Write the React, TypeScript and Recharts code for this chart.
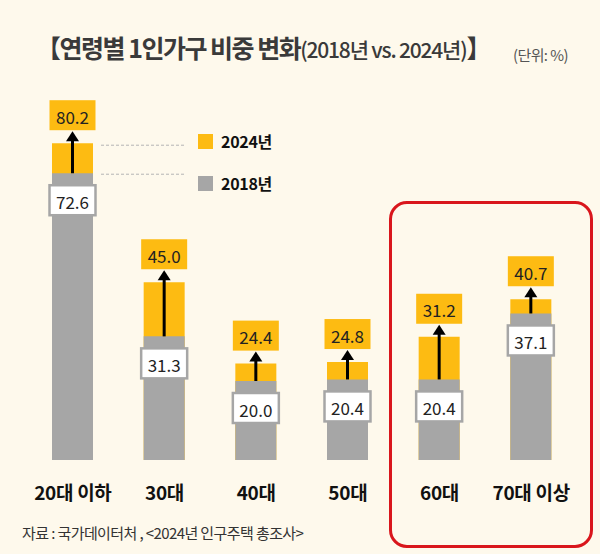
import { Bar, BarChart, LabelList, Legend, XAxis, YAxis } from "recharts";

const ageGroups = ["20대 이하", "30대", "40대", "50대", "60대", "70대 이상"];
const share2018 = [72.6, 31.3, 20.0, 20.4, 20.4, 37.1];
const share2024 = [80.2, 45.0, 24.4, 24.8, 31.2, 40.7];
const seriesNames = ["2024년", "2018년"];

const data = ageGroups.map((age, i) => ({
  age,
  y2018: share2018[i],
  y2024: share2024[i],
}));

const YELLOW = "#fdbb12";
const GRAY = "#a6a6a6";
const BG = "#fef9ec";
const FONT = "'Noto Sans CJK KR', 'Noto Sans', sans-serif";

// yellow value box + arrow from the 2018 top up to it
const NewValueLabel = (props: any) => {
  const { x, y, width, height, value, index } = props;
  const cx = x + width / 2;
  const base = y + height;
  const oldTop = base - (height * share2018[index]) / share2024[index];
  const boxW = 46;
  const boxH = 30;
  const boxBottom = y - 13;
  return (
    <g>
      <line x1={cx} y1={oldTop} x2={cx} y2={boxBottom + 9} stroke="#000" strokeWidth={3} />
      <polygon
        points={`${cx - 6.5},${boxBottom + 11} ${cx + 6.5},${boxBottom + 11} ${cx},${boxBottom + 1}`}
        fill="#000"
      />
      <rect x={cx - boxW / 2} y={boxBottom - boxH} width={boxW} height={boxH} fill={YELLOW} />
      <text
        x={cx}
        y={boxBottom - boxH / 2 + 1}
        textAnchor="middle"
        dominantBaseline="central"
        fontSize={17}
        fill="#222"
        fontFamily={FONT}
      >
        {Number(value).toFixed(1)}
      </text>
      {index === 0 && (
        <g stroke="#b5b5b5" strokeWidth={1} strokeDasharray="3 2">
          <line x1={x + width + 8} y1={y + 2} x2={x + width + 92} y2={y + 2} />
          <line x1={x + width + 8} y1={oldTop + 1} x2={x + width + 92} y2={oldTop + 1} />
        </g>
      )}
    </g>
  );
};

// white value box sitting just inside the top of the gray bar
const OldValueLabel = (props: any) => {
  const { x, y, width, value } = props;
  const cx = x + width / 2;
  const boxW = 46;
  const boxH = 30;
  const top = y + 12;
  return (
    <g>
      <rect
        x={cx - boxW / 2}
        y={top}
        width={boxW}
        height={boxH}
        fill="#fff"
        stroke={GRAY}
        strokeWidth={2.5}
      />
      <text
        x={cx}
        y={top + boxH / 2 + 1}
        textAnchor="middle"
        dominantBaseline="central"
        fontSize={17}
        fill="#222"
        fontFamily={FONT}
      >
        {Number(value).toFixed(1)}
      </text>
    </g>
  );
};

const AgeTick = (props: any) => {
  const { x, payload } = props;
  return (
    <text
      x={x}
      y={491}
      textAnchor="middle"
      dominantBaseline="central"
      fontSize={19}
      fontWeight={700}
      fill="#111"
      fontFamily={FONT}
      letterSpacing={-0.3}
    >
      {payload.value}
    </text>
  );
};

const LegendBox = () => (
  <div style={{ fontFamily: FONT }}>
    {seriesNames.map((name, i) => (
      <div
        key={name}
        style={{ display: "flex", alignItems: "center", height: 20, marginBottom: i === 0 ? 22 : 0 }}
      >
        <span
          style={{
            width: 15,
            height: 15,
            background: i === 0 ? YELLOW : GRAY,
            display: "inline-block",
            marginRight: 8,
          }}
        />
        <span style={{ fontSize: 16, fontWeight: 700, color: "#111", letterSpacing: -0.3 }}>
          {name}
        </span>
      </div>
    ))}
  </div>
);

export default function App() {
  return (
    <div
      style={{
        position: "absolute",
        left: 0,
        top: 0,
        width: 600,
        height: 554,
        background: BG,
        overflow: "hidden",
        fontFamily: FONT,
      }}
    >
      <div
        style={{
          position: "absolute",
          left: 36,
          top: 32,
          fontSize: 25,
          color: "#3a3a3a",
          whiteSpace: "nowrap",
          letterSpacing: -1.5,
          lineHeight: "30px",
        }}
      >
        <span style={{ fontWeight: 700 }}>【연령별 1인가구 비중 변화</span>
        <span style={{ fontSize: 21, fontWeight: 500, letterSpacing: -1.2 }}>(2018년 vs. 2024년)</span>
        <span style={{ fontWeight: 700 }}>】</span>
      </div>
      <div
        style={{
          position: "absolute",
          left: 513,
          top: 44,
          fontSize: 15,
          color: "#555",
          letterSpacing: -0.6,
          whiteSpace: "nowrap",
        }}
      >
        (단위: %)
      </div>

      <BarChart
        width={600}
        height={554}
        data={data}
        margin={{ top: 65, right: 23, bottom: 64, left: 27 }}
        barSize={41}
        barGap={-41}
      >
        <XAxis dataKey="age" axisLine={false} tickLine={false} tick={<AgeTick />} interval={0} />
        <YAxis hide domain={[0, 100]} />
        <Legend
          layout="vertical"
          align="center"
          verticalAlign="middle"
          content={<LegendBox />}
          wrapperStyle={{ left: 198, top: 131, width: 100, height: 70 }}
        />
        <Bar dataKey="y2024" fill={YELLOW} isAnimationActive={false}>
          <LabelList dataKey="y2024" content={<NewValueLabel />} />
        </Bar>
        <Bar dataKey="y2018" fill={GRAY} isAnimationActive={false}>
          <LabelList dataKey="y2018" content={<OldValueLabel />} />
        </Bar>
      </BarChart>

      <div
        style={{
          position: "absolute",
          left: 22,
          top: 522,
          fontSize: 15,
          color: "#333",
          letterSpacing: -0.6,
          whiteSpace: "nowrap",
        }}
      >
        자료 : 국가데이터처 , &lt;2024년 인구주택 총조사&gt;
      </div>

      <div
        style={{
          position: "absolute",
          left: 389,
          top: 201,
          width: 198,
          height: 341,
          border: "3px solid #d9161c",
          borderRadius: 18,
          pointerEvents: "none",
        }}
      />
    </div>
  );
}
